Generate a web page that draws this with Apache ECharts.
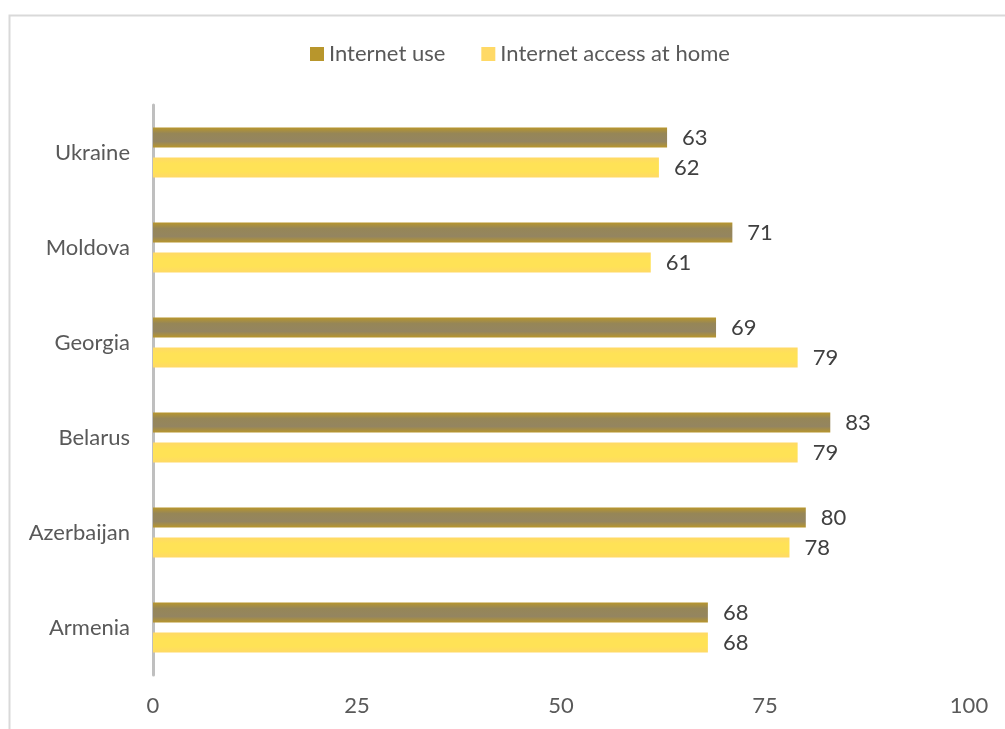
<!DOCTYPE html>
<html>
<head>
<meta charset="utf-8">
<script src="https://cdn.jsdelivr.net/npm/echarts@6/dist/echarts.min.js"></script>
<style>
  html, body { margin: 0; padding: 0; background: #fff; }
  #chart { width: 1005px; height: 729px; }
</style>
</head>
<body>
<div id="chart"></div>
<script>
// Countries, top to bottom
const countries = ['Ukraine', 'Moldova', 'Georgia', 'Belarus', 'Azerbaijan', 'Armenia'];
// Share of population, %
const internetUse = [63, 71, 69, 83, 80, 68];
const accessAtHome = [62, 61, 79, 79, 78, 68];
const seriesNames = ['Internet use', 'Internet access at home'];
const axisTicks = [0, 25, 50, 75, 100];

const FONT = 'Lato, "Liberation Sans", sans-serif';
const FS = 22;

const darkFill = {
  type: 'linear', x: 0, y: 0, x2: 0, y2: 1,
  colorStops: [
    { offset: 0, color: '#B8962C' },
    { offset: 0.3, color: '#968657' },
    { offset: 0.7, color: '#948560' },
    { offset: 1, color: '#B8962C' }
  ]
};
const lightFill = {
  type: 'linear', x: 0, y: 0, x2: 0, y2: 1,
  colorStops: [
    { offset: 0, color: '#FFD966' },
    { offset: 0.3, color: '#FFE256' },
    { offset: 0.7, color: '#FFE256' },
    { offset: 1, color: '#FFD966' }
  ]
};

const valueLabel = {
  show: true,
  position: 'right',
  distance: 15,
  color: '#404040',
  fontSize: FS,
  fontFamily: FONT
};

const chart = echarts.init(document.getElementById('chart'), null, { renderer: 'canvas' });
chart.setOption({
  animation: false,
  backgroundColor: '#fff',
  graphic: [{
    type: 'rect',
    shape: { x: 9.5, y: 15.5, width: 1100, height: 800 },
    style: { fill: 'none', stroke: '#D9D9D9', lineWidth: 2 },
    silent: true
  }],
  legend: {
    top: 38,
    left: 305,
    itemWidth: 14,
    itemHeight: 14,
    itemGap: 36,
    icon: 'rect',
    textStyle: { color: '#595959', fontSize: FS, fontFamily: FONT },
    data: [
      { name: seriesNames[0], itemStyle: { color: '#B8962C' } },
      { name: seriesNames[1], itemStyle: { color: '#FFD966' } }
    ]
  },
  grid: { left: 153, right: 36, top: 105, bottom: 54, containLabel: false },
  xAxis: {
    type: 'value',
    min: axisTicks[0],
    max: axisTicks[axisTicks.length - 1],
    interval: 25,
    axisLine: { show: false },
    axisTick: { show: false },
    splitLine: { show: false },
    axisLabel: { color: '#595959', fontSize: FS, fontFamily: FONT, margin: 20 }
  },
  yAxis: {
    type: 'category',
    data: countries,
    inverse: true,
    axisLine: { show: true, lineStyle: { color: '#BFBFBF', width: 3 } },
    axisTick: { show: false },
    axisLabel: { color: '#595959', fontSize: FS, fontFamily: FONT, margin: 23 }
  },
  series: [
    {
      name: seriesNames[0],
      type: 'bar',
      data: internetUse,
      barWidth: 20,
      barGap: '50%',
      itemStyle: { color: darkFill },
      label: valueLabel
    },
    {
      name: seriesNames[1],
      type: 'bar',
      data: accessAtHome,
      barWidth: 20,
      itemStyle: { color: lightFill },
      label: valueLabel
    }
  ]
});
</script>
</body>
</html>
